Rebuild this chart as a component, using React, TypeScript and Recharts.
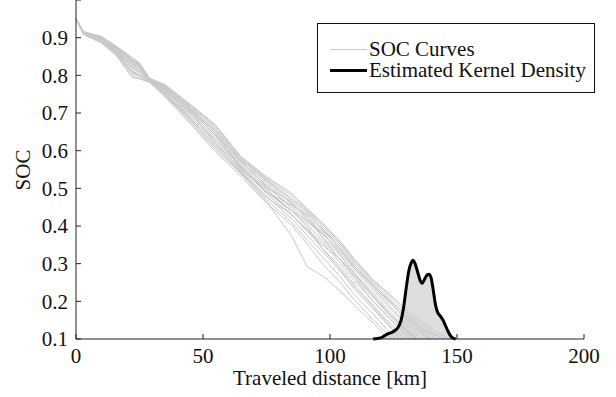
import { ComposedChart, Line, Area, XAxis, YAxis, Legend } from "recharts";

const FONT = "Liberation Serif, DejaVu Serif, Times New Roman, serif";

// distance samples (km) shared by the SOC curves
const curveKm = [0, 3, 10, 16, 22, 25, 29, 35, 45, 55, 65, 75, 85, 91, 97, 104, 110, 117, 123, 130, 137, 144];

// SOC values, one array per curve (until it reaches 0.1)
const soc01 = [0.95, 0.909, 0.887, 0.851, 0.795, 0.79, 0.784, 0.746, 0.676, 0.602, 0.538, 0.465, 0.372, 0.292, 0.268, 0.228, 0.187, 0.142];
const soc02 = [0.95, 0.908, 0.886, 0.853, 0.8, 0.792, 0.781, 0.742, 0.672, 0.596, 0.532, 0.461, 0.402, 0.352, 0.3, 0.25, 0.201, 0.151];
const soc03 = [0.95, 0.91, 0.889, 0.856, 0.806, 0.797, 0.783, 0.748, 0.681, 0.607, 0.541, 0.47, 0.41, 0.362, 0.318, 0.266, 0.214, 0.166, 0.121];
const soc04 = [0.95, 0.911, 0.892, 0.858, 0.812, 0.803, 0.784, 0.753, 0.687, 0.616, 0.546, 0.479, 0.419, 0.375, 0.332, 0.281, 0.229, 0.18, 0.136];
const soc05 = [0.95, 0.912, 0.893, 0.861, 0.818, 0.808, 0.786, 0.756, 0.692, 0.622, 0.549, 0.492, 0.44, 0.398, 0.341, 0.292, 0.241, 0.189, 0.146];
const soc06 = [0.95, 0.912, 0.895, 0.864, 0.822, 0.812, 0.785, 0.759, 0.697, 0.63, 0.553, 0.486, 0.428, 0.39, 0.356, 0.302, 0.251, 0.201, 0.157, 0.108];
const soc07 = [0.95, 0.913, 0.896, 0.866, 0.826, 0.816, 0.787, 0.761, 0.701, 0.636, 0.556, 0.497, 0.44, 0.404, 0.362, 0.311, 0.262, 0.211, 0.166, 0.118];
const soc08 = [0.95, 0.913, 0.898, 0.868, 0.829, 0.82, 0.786, 0.763, 0.706, 0.641, 0.56, 0.503, 0.452, 0.418, 0.371, 0.322, 0.272, 0.222, 0.176, 0.126];
const soc09 = [0.95, 0.914, 0.899, 0.87, 0.833, 0.824, 0.788, 0.766, 0.71, 0.646, 0.565, 0.509, 0.446, 0.41, 0.381, 0.331, 0.281, 0.231, 0.186, 0.136];
const soc10 = [0.95, 0.914, 0.9, 0.871, 0.836, 0.826, 0.789, 0.768, 0.713, 0.651, 0.569, 0.514, 0.458, 0.426, 0.389, 0.34, 0.29, 0.237, 0.192, 0.142, 0.108];
const soc11 = [0.95, 0.915, 0.901, 0.873, 0.839, 0.828, 0.79, 0.77, 0.716, 0.656, 0.574, 0.519, 0.464, 0.433, 0.394, 0.346, 0.296, 0.246, 0.202, 0.151, 0.114];
const soc12 = [0.95, 0.915, 0.902, 0.875, 0.842, 0.83, 0.789, 0.772, 0.719, 0.661, 0.578, 0.524, 0.472, 0.44, 0.4, 0.352, 0.301, 0.251, 0.21, 0.16, 0.121];
const soc13 = [0.95, 0.916, 0.903, 0.876, 0.845, 0.832, 0.791, 0.774, 0.721, 0.665, 0.581, 0.528, 0.48, 0.444, 0.405, 0.356, 0.306, 0.255, 0.218, 0.17, 0.131, 0.103];
const soc14 = [0.95, 0.916, 0.903, 0.877, 0.848, 0.833, 0.792, 0.776, 0.723, 0.668, 0.584, 0.531, 0.486, 0.446, 0.409, 0.359, 0.31, 0.257, 0.222, 0.178, 0.14, 0.11];
const soc15 = [0.95, 0.91, 0.893, 0.866, 0.83, 0.82, 0.787, 0.752, 0.69, 0.628, 0.56, 0.49, 0.455, 0.43, 0.37, 0.31, 0.26, 0.2, 0.158, 0.112];
const soc16 = [0.95, 0.913, 0.894, 0.86, 0.81, 0.8, 0.785, 0.762, 0.704, 0.62, 0.55, 0.5, 0.43, 0.385, 0.35, 0.312, 0.27, 0.215, 0.17, 0.122];
const soc17 = [0.95, 0.914, 0.9, 0.872, 0.838, 0.826, 0.79, 0.758, 0.7, 0.655, 0.572, 0.505, 0.462, 0.42, 0.378, 0.336, 0.285, 0.24, 0.2, 0.155, 0.112];
const soc18 = [0.95, 0.912, 0.896, 0.864, 0.82, 0.81, 0.786, 0.765, 0.714, 0.645, 0.552, 0.49, 0.44, 0.415, 0.385, 0.325, 0.268, 0.215, 0.17, 0.125];
const soc19 = [0.95, 0.915, 0.901, 0.874, 0.84, 0.83, 0.791, 0.771, 0.708, 0.64, 0.575, 0.522, 0.47, 0.438, 0.392, 0.34, 0.29, 0.244, 0.205, 0.162, 0.124, 0.102];
const soc20 = [0.95, 0.911, 0.89, 0.857, 0.808, 0.8, 0.783, 0.75, 0.684, 0.612, 0.543, 0.476, 0.43, 0.39, 0.34, 0.285, 0.235, 0.185, 0.14];

const socCurves = [
  soc01, soc02, soc03, soc04, soc05, soc06, soc07, soc08, soc09, soc10,
  soc11, soc12, soc13, soc14, soc15, soc16, soc17, soc18, soc19, soc20,
];
// distance where each curve reaches SOC 0.1
const curveEndKm = [123, 124.5, 126, 128, 129.5, 131, 133, 134.5, 136, 138.5, 140, 142, 144.5, 147, 131.5, 133.5, 139, 134, 144.5, 127.5];

// estimated kernel density of the end distance (drawn in SOC units)
const densityKm = [117, 120, 122.5, 125, 126.5, 128, 129, 130, 131, 132, 132.7, 133.5, 134.5, 135.5, 136.3, 137.2, 138.2, 139, 139.8, 140.6, 141.5, 142.3, 143.3, 144.5, 145.5, 146.5, 147.5, 148.5, 149.5];
const densityValue = [0.1, 0.103, 0.113, 0.12, 0.128, 0.15, 0.185, 0.235, 0.28, 0.303, 0.309, 0.3, 0.278, 0.255, 0.248, 0.258, 0.27, 0.272, 0.262, 0.232, 0.192, 0.172, 0.162, 0.15, 0.135, 0.12, 0.108, 0.102, 0.1];

const xTicks = [0, 50, 100, 150, 200];
const yTicks = [0.1, 0.2, 0.3, 0.4, 0.5, 0.6, 0.7, 0.8, 0.9, 1];

const legendNames = ["SOC Curves", "Estimated Kernel Density"];

const curveData = socCurves.map((vals, i) => [
  ...vals.map((soc, j) => ({ km: curveKm[j], soc })),
  { km: curveEndKm[i], soc: 0.1 },
]);

const densityData = densityKm.map((km, i) => ({ km, soc: densityValue[i] }));

function LegendBox() {
  const row = { display: "flex", alignItems: "center", height: 21 };
  return (
    <div
      style={{
        border: "1px solid #111",
        background: "#fff",
        width: 278,
        height: 70,
        boxSizing: "border-box",
        paddingTop: 15,
        paddingLeft: 12,
        fontFamily: FONT,
        fontSize: 21,
        lineHeight: "21px",
        color: "#111",
        whiteSpace: "nowrap",
      }}
    >
      <div style={row}>
        <div style={{ width: 37, height: 1, background: "#c8c8c8", marginRight: 2 }} />
        <span>{legendNames[0]}</span>
      </div>
      <div style={row}>
        <div style={{ width: 37, height: 3, background: "#000", marginRight: 2 }} />
        <span>{legendNames[1]}</span>
      </div>
    </div>
  );
}

export default function App() {
  return (
    <div style={{ fontFamily: FONT }}>
      <style>{`body { margin: 0; }`}</style>
      <ComposedChart width={616} height={397} margin={{ top: 0, right: 32, bottom: 0, left: 0 }}>
        <XAxis
          type="number"
          dataKey="km"
          domain={[0, 200]}
          ticks={xTicks}
          height={58}
          tickSize={-5}
          tickMargin={14}
          stroke="#222"
          tick={{ fill: "#111", fontSize: 21, fontFamily: FONT }}
          label={{ value: "Traveled distance [km]", position: "insideBottom", offset: 12, fill: "#111", fontSize: 21, fontFamily: FONT }}
        />
        <YAxis
          type="number"
          domain={[0.1, 1]}
          ticks={yTicks}
          width={76}
          tickSize={-5}
          tickMargin={13}
          stroke="#222"
          tickFormatter={(v: number) => (v >= 1 ? "" : v.toFixed(1))}
          tick={{ fill: "#111", fontSize: 21, fontFamily: FONT }}
          label={() => (
            <text
              x={23}
              y={170}
              transform="rotate(-90 23 170)"
              textAnchor="middle"
              dominantBaseline="central"
              fill="#111"
              fontSize={21}
              fontFamily={FONT}
            >
              SOC
            </text>
          )}
        />
        <Area
          data={densityData}
          dataKey="soc"
          type="monotone"
          baseValue={0.1}
          stroke="none"
          fill="#dedede"
          fillOpacity={1}
          isAnimationActive={false}
        />
        {curveData.map((d, i) => (
          <Line
            key={i}
            data={d}
            dataKey="soc"
            type="linear"
            stroke="#c8c8c8"
            strokeWidth={1}
            dot={false}
            isAnimationActive={false}
          />
        ))}
        <Line
          data={densityData}
          dataKey="soc"
          type="monotone"
          stroke="#000"
          strokeWidth={3}
          dot={false}
          isAnimationActive={false}
        />
        <Legend
          layout="vertical"
          align="center"
          verticalAlign="middle"
          content={() => <LegendBox />}
          wrapperStyle={{ left: 317, top: 23, right: "auto", bottom: "auto", width: 278 }}
        />
      </ComposedChart>
    </div>
  );
}
